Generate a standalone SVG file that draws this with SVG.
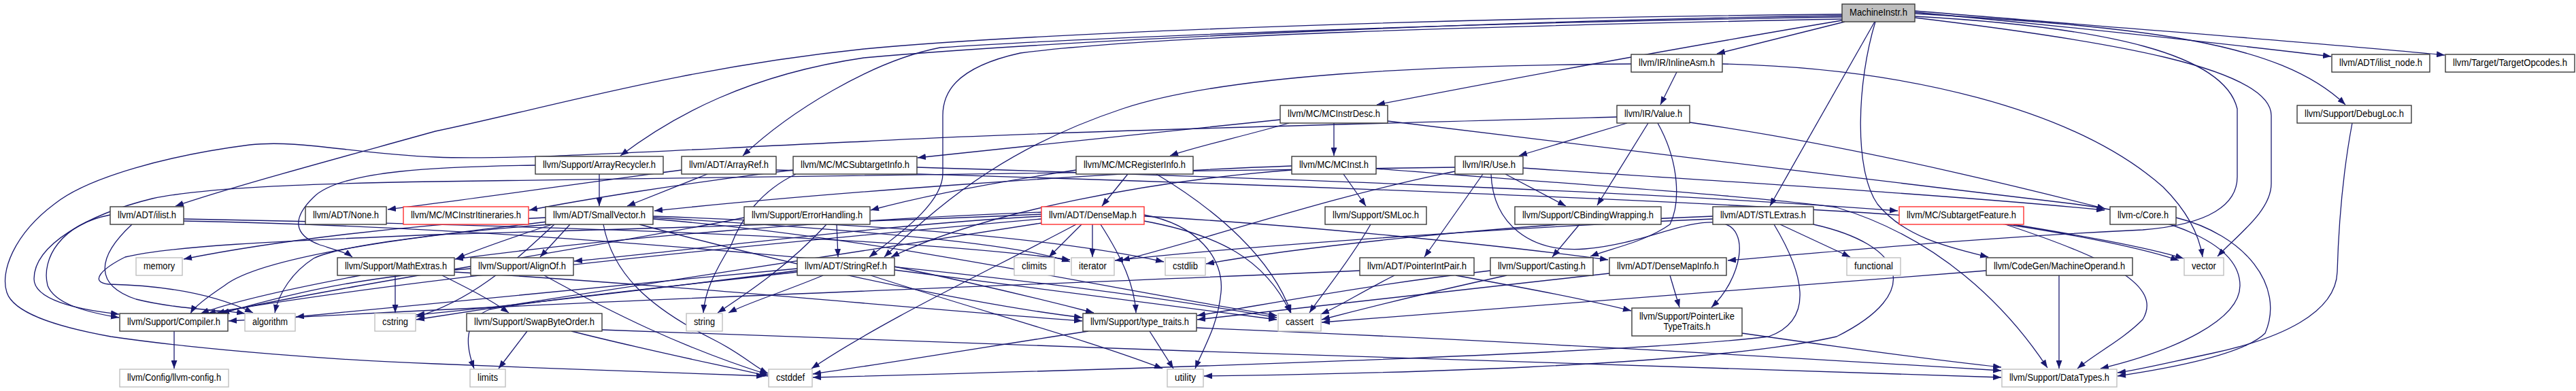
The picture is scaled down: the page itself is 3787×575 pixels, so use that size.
<svg xmlns="http://www.w3.org/2000/svg" width="3787" height="575" viewBox="0 0 3787 575">
<style>
.e path{fill:none;stroke:#191970;stroke-width:1.3;marker-end:url(#ah)}
rect{fill:#fff;stroke-width:1.4}
.b rect{stroke:#3a3a3a}
.g rect{stroke:#bfbfbf}
.r rect{stroke:#ff3030}
.m rect{fill:#bfbfbf;stroke:#3a3a3a}
text{font-family:"Liberation Sans",Arial,sans-serif;font-size:14px;fill:#000;text-anchor:middle}
</style>
<defs>
<marker id="ah" markerWidth="12" markerHeight="9" refX="12" refY="4.5" orient="auto" markerUnits="userSpaceOnUse"><path d="M0,0 L12,4.5 L0,9 z" fill="#191970"/></marker>
</defs>
<rect x="0" y="0" width="3787" height="575" style="fill:#fff;stroke:none"/>
<g id="connectors" class="e">
<path d="M2708,21 C2100,26 1500,50 1270,72 C1000,100 800,160 640,193 C500,232 350,272 258,303"/>
<path d="M2708,23 C2200,30 1550,60 1270,85 C1100,110 990,170 912,229"/>
<path d="M2708,25 C2200,32 1600,55 1382,70 C1280,90 1160,165 1092,229"/>
<path d="M2708,28 C2200,38 1700,52 1500,78 C1400,100 1386,140 1386,170 L1386,255 C1386,300 1320,345 1278,378"/>
<path d="M2708,30 C2600,48 2300,100 2024,154"/>
<path d="M2712,32 L2524,79"/>
<path d="M2756,32 L2602,303"/>
<path d="M2757,32 C2730,120 2725,250 2760,300 C2800,350 2870,365 2923,378"/>
<path d="M2815,24 C3100,40 3270,80 3289,160 L3289,260 C3289,300 3250,330 3150,338 C2900,350 2700,370 2540,383"/>
<path d="M2815,26 C3100,60 3339,100 3339,170 L3339,270 C3339,310 3290,345 3260,377"/>
<path d="M2815,20 C3150,40 3350,60 3448,154"/>
<path d="M2815,18 C3050,40 3250,62 3427,83"/>
<path d="M2815,16 C3100,40 3400,62 3594,81"/>
<path d="M2465,106 L2441,154"/>
<path d="M2398,94 C2100,96 1800,110 1650,160 C1500,210 1400,280 1300,378"/>
<path d="M2532,94 C2800,100 3050,160 3180,275 C3215,310 3233,345 3238,378"/>
<path d="M1961,181 L1961,229"/>
<path d="M1882,176 C1700,195 1450,220 1349,232"/>
<path d="M1895,181 C1830,200 1760,215 1720,229"/>
<path d="M2040,178 C2300,210 2800,270 3050,300 C3200,320 3293,360 3293,420 C3293,470 3200,515 3088,542"/>
<path d="M2023,248 C2300,270 2600,290 2700,305 C2850,350 2950,450 3010,541"/>
<path d="M2392,181 L2233,229"/>
<path d="M2423,181 L2348,302"/>
<path d="M2437,181 C2470,240 2470,300 2455,330 C2420,355 2370,365 2338,377"/>
<path d="M2484,180 C2700,210 2950,270 3095,307"/>
<path d="M2377,172 C2000,182 1500,195 1270,208 C1000,220 760,236 640,231 C520,226 440,205 367,213 C250,228 130,260 80,300 C20,345 0,400 10,430 C20,460 80,480 163,495 C300,515 500,530 640,535 C800,542 1000,548 1124,553"/>
<path d="M2180,256 L2094,378"/>
<path d="M2213,256 L2302,303"/>
<path d="M2239,247 C2500,265 2850,285 3094,309"/>
<path d="M2139,252 C1950,290 1780,350 1649,383"/>
<path d="M2192,256 C2195,330 2250,372 2330,366 C2420,358 2480,320 2530,328 C2575,335 2560,410 2516,452"/>
<path d="M2139,246 C1700,252 1000,262 640,267 C450,270 300,276 224,292 C130,315 50,360 50,410 C50,440 110,455 175,462"/>
<path d="M1975,256 L2008,303"/>
<path d="M1899,244 C1600,255 1200,285 962,310"/>
<path d="M1899,250 C1700,265 1450,310 1310,378"/>
<path d="M1658,256 L1620,303"/>
<path d="M1582,250 C1450,270 1350,290 1280,309"/>
<path d="M1700,256 C1790,310 1870,380 1898,460"/>
<path d="M1166,250 C1000,270 850,295 778,309"/>
<path d="M1348,246 C1800,260 2400,280 2790,310"/>
<path d="M1170,256 C1120,280 1090,320 1075,360 C1050,400 1036,430 1034,460"/>
<path d="M881,256 L881,303"/>
<path d="M787,243 C650,245 500,250 461,290 C430,320 430,345 470,360 C495,368 510,372 518,378"/>
<path d="M1002,250 C850,270 700,292 570,308"/>
<path d="M1040,256 C1000,272 960,288 922,303"/>
<path d="M1141,250 C1700,265 2700,300 2950,330 C3050,345 3150,365 3203,383"/>
<path d="M162,316 C90,330 60,380 70,420 C80,445 120,458 175,467"/>
<path d="M194,330 C140,380 140,420 200,440 C260,455 330,456 360,461"/>
<path d="M270,322 C700,330 1300,345 1573,382"/>
<path d="M270,325 C800,335 1500,400 1877,467"/>
<path d="M838,330 L794,378"/>
<path d="M810,330 C600,345 380,380 330,420 C300,440 285,452 280,461"/>
<path d="M812,330 C750,350 700,368 671,380"/>
<path d="M802,320 C600,330 400,355 270,381"/>
<path d="M940,330 C1200,400 1450,450 1591,467"/>
<path d="M805,326 C650,345 500,360 461,380 C430,400 410,430 404,460"/>
<path d="M960,322 C1300,350 1600,420 1877,464"/>
<path d="M887,330 C900,400 950,450 1050,500 C1090,520 1110,540 1129,549"/>
<path d="M960,318 C1300,330 1550,350 1711,385"/>
<path d="M815,330 C760,380 700,440 612,466"/>
<path d="M960,320 C1300,340 1500,360 1573,385"/>
<path d="M1230,330 L1232,378"/>
<path d="M1215,330 C1160,390 1100,430 1055,460"/>
<path d="M1094,320 C900,360 500,420 318,461"/>
<path d="M1682,318 C1900,330 2200,360 2364,382"/>
<path d="M1531,312 C1200,325 900,350 669,381"/>
<path d="M1531,318 C1300,330 1000,370 844,384"/>
<path d="M1531,322 C1100,360 600,410 305,461"/>
<path d="M1618,330 C1650,380 1668,420 1670,460"/>
<path d="M1531,315 C1200,330 800,340 640,345 C400,355 250,362 184,378 C150,395 130,415 160,418 C250,420 320,435 372,460"/>
<path d="M1682,325 C1790,345 1860,380 1897,460"/>
<path d="M1590,330 L1542,378"/>
<path d="M1582,330 C1450,400 1300,470 1193,542"/>
<path d="M1531,328 C1200,380 800,440 612,470"/>
<path d="M1606,330 L1606,378"/>
<path d="M1682,316 C1760,330 1800,380 1795,430 C1790,480 1770,510 1757,542"/>
<path d="M1315,392 C1450,420 1550,445 1608,460"/>
<path d="M1172,395 C900,420 600,450 435,466"/>
<path d="M1315,397 C1500,420 1750,455 1877,470"/>
<path d="M1172,398 C1000,420 750,450 612,463"/>
<path d="M1172,400 C1000,420 800,440 720,455 C680,470 685,510 697,542"/>
<path d="M1210,405 C1150,430 1100,445 1071,460"/>
<path d="M1280,405 C1450,460 1600,500 1709,542"/>
<path d="M530,405 C450,420 350,440 295,461"/>
<path d="M650,405 C690,425 720,440 748,460"/>
<path d="M668,400 C1000,420 1300,450 1591,472"/>
<path d="M581,405 L581,460"/>
<path d="M692,395 C500,410 400,440 325,461"/>
<path d="M800,405 C900,460 1000,510 1129,551"/>
<path d="M885,485 C1500,510 2500,540 2942,555"/>
<path d="M840,487 C950,515 1050,535 1129,553"/>
<path d="M775,487 L733,542"/>
<path d="M1759,482 C2200,500 2700,530 2942,545"/>
<path d="M1600,487 C1450,510 1300,535 1195,550"/>
<path d="M1690,487 L1725,542"/>
<path d="M256,487 L256,542"/>
<path d="M2140,405 C2250,425 2330,440 2398,457"/>
<path d="M2050,405 C2000,430 1970,450 1942,462"/>
<path d="M1999,398 C1500,420 900,440 336,472"/>
<path d="M2191,398 C2000,420 1850,450 1760,464"/>
<path d="M2215,405 C2100,430 2000,455 1943,470"/>
<path d="M2322,330 L2282,378"/>
<path d="M2455,405 L2469,452"/>
<path d="M2366,402 C2100,430 1900,455 1760,470"/>
<path d="M2015,330 C1980,390 1945,430 1925,460"/>
<path d="M2617,330 L2720,378"/>
<path d="M2608,330 C2650,400 2670,470 2600,495 C2400,520 1600,545 1195,555"/>
<path d="M2518,318 C2200,330 1900,365 1773,388"/>
<path d="M2518,322 C2200,335 1800,365 1639,383"/>
<path d="M2666,330 C2800,360 2830,430 2700,495 C2500,540 2000,550 1770,553"/>
<path d="M2948,330 C3100,380 3180,420 3150,470 C3120,500 3080,520 3054,542"/>
<path d="M2960,330 C3050,345 3150,362 3210,380"/>
<path d="M3027,405 L3027,542"/>
<path d="M2920,398 C2500,430 2200,455 1943,474"/>
<path d="M2561,490 C2700,510 2850,530 2942,540"/>
<path d="M3458,181 C3445,250 3438,330 3436,400 C3434,460 3354,498 3250,520 C3180,535 3140,545 3113,548"/>
<path d="M3199,320 C3300,345 3360,420 3330,490 C3300,520 3200,540 3113,553"/>
</g>
<g id="MachineInstr" class="m"><rect x="2708" y="6" width="107" height="26"/><text x="2761.5" y="23" textLength="85" lengthAdjust="spacingAndGlyphs">MachineInstr.h</text></g>
<g id="InlineAsm" class="b"><rect x="2398" y="80" width="134" height="26"/><text x="2465" y="97" textLength="112" lengthAdjust="spacingAndGlyphs">llvm/IR/InlineAsm.h</text></g>
<g id="ilist_node" class="b"><rect x="3428" y="80" width="144" height="26"/><text x="3500" y="97" textLength="122" lengthAdjust="spacingAndGlyphs">llvm/ADT/ilist_node.h</text></g>
<g id="TargetOpcodes" class="b"><rect x="3595" y="80" width="190" height="26"/><text x="3690" y="97" textLength="168" lengthAdjust="spacingAndGlyphs">llvm/Target/TargetOpcodes.h</text></g>
<g id="MCInstrDesc" class="b"><rect x="1882" y="155" width="158" height="26"/><text x="1961" y="172" textLength="136" lengthAdjust="spacingAndGlyphs">llvm/MC/MCInstrDesc.h</text></g>
<g id="Value" class="b"><rect x="2377" y="155" width="107" height="26"/><text x="2430.5" y="172" textLength="85" lengthAdjust="spacingAndGlyphs">llvm/IR/Value.h</text></g>
<g id="DebugLoc" class="b"><rect x="3377" y="155" width="168" height="26"/><text x="3461" y="172" textLength="146" lengthAdjust="spacingAndGlyphs">llvm/Support/DebugLoc.h</text></g>
<g id="ArrayRecycler" class="b"><rect x="787" y="230" width="188" height="26"/><text x="881" y="247" textLength="166" lengthAdjust="spacingAndGlyphs">llvm/Support/ArrayRecycler.h</text></g>
<g id="ArrayRef" class="b"><rect x="1002" y="230" width="139" height="26"/><text x="1071.5" y="247" textLength="117" lengthAdjust="spacingAndGlyphs">llvm/ADT/ArrayRef.h</text></g>
<g id="MCSubtargetInfo" class="b"><rect x="1166" y="230" width="182" height="26"/><text x="1257" y="247" textLength="160" lengthAdjust="spacingAndGlyphs">llvm/MC/MCSubtargetInfo.h</text></g>
<g id="MCRegisterInfo" class="b"><rect x="1582" y="230" width="172" height="26"/><text x="1668" y="247" textLength="150" lengthAdjust="spacingAndGlyphs">llvm/MC/MCRegisterInfo.h</text></g>
<g id="MCInst" class="b"><rect x="1899" y="230" width="124" height="26"/><text x="1961" y="247" textLength="102" lengthAdjust="spacingAndGlyphs">llvm/MC/MCInst.h</text></g>
<g id="Use" class="b"><rect x="2139" y="230" width="100" height="26"/><text x="2189" y="247" textLength="78" lengthAdjust="spacingAndGlyphs">llvm/IR/Use.h</text></g>
<g id="ilist" class="b"><rect x="162" y="304" width="108" height="26"/><text x="216" y="321" textLength="86" lengthAdjust="spacingAndGlyphs">llvm/ADT/ilist.h</text></g>
<g id="None" class="b"><rect x="449" y="304" width="119" height="26"/><text x="508.5" y="321" textLength="97" lengthAdjust="spacingAndGlyphs">llvm/ADT/None.h</text></g>
<g id="MCInstrItineraries" class="r"><rect x="593" y="304" width="184" height="26"/><text x="685" y="321" textLength="162" lengthAdjust="spacingAndGlyphs">llvm/MC/MCInstrItineraries.h</text></g>
<g id="SmallVector" class="b"><rect x="802" y="304" width="158" height="26"/><text x="881" y="321" textLength="136" lengthAdjust="spacingAndGlyphs">llvm/ADT/SmallVector.h</text></g>
<g id="ErrorHandling" class="b"><rect x="1094" y="304" width="185" height="26"/><text x="1186.5" y="321" textLength="163" lengthAdjust="spacingAndGlyphs">llvm/Support/ErrorHandling.h</text></g>
<g id="DenseMap" class="r"><rect x="1531" y="304" width="151" height="26"/><text x="1606.5" y="321" textLength="129" lengthAdjust="spacingAndGlyphs">llvm/ADT/DenseMap.h</text></g>
<g id="SMLoc" class="b"><rect x="1948" y="304" width="149" height="26"/><text x="2022.5" y="321" textLength="127" lengthAdjust="spacingAndGlyphs">llvm/Support/SMLoc.h</text></g>
<g id="CBindingWrapping" class="b"><rect x="2227" y="304" width="215" height="26"/><text x="2334.5" y="321" textLength="193" lengthAdjust="spacingAndGlyphs">llvm/Support/CBindingWrapping.h</text></g>
<g id="STLExtras" class="b"><rect x="2518" y="304" width="148" height="26"/><text x="2592" y="321" textLength="126" lengthAdjust="spacingAndGlyphs">llvm/ADT/STLExtras.h</text></g>
<g id="SubtargetFeature" class="r"><rect x="2792" y="304" width="183" height="26"/><text x="2883.5" y="321" textLength="161" lengthAdjust="spacingAndGlyphs">llvm/MC/SubtargetFeature.h</text></g>
<g id="Core" class="b"><rect x="3102" y="304" width="97" height="26"/><text x="3150.5" y="321" textLength="75" lengthAdjust="spacingAndGlyphs">llvm-c/Core.h</text></g>
<g id="memory" class="g"><rect x="200" y="379" width="68" height="26"/><text x="234" y="396" textLength="46" lengthAdjust="spacingAndGlyphs">memory</text></g>
<g id="MathExtras" class="b"><rect x="496" y="379" width="172" height="26"/><text x="582" y="396" textLength="150" lengthAdjust="spacingAndGlyphs">llvm/Support/MathExtras.h</text></g>
<g id="AlignOf" class="b"><rect x="692" y="379" width="151" height="26"/><text x="767.5" y="396" textLength="129" lengthAdjust="spacingAndGlyphs">llvm/Support/AlignOf.h</text></g>
<g id="StringRef" class="b"><rect x="1172" y="379" width="143" height="26"/><text x="1243.5" y="396" textLength="121" lengthAdjust="spacingAndGlyphs">llvm/ADT/StringRef.h</text></g>
<g id="climits" class="g"><rect x="1491" y="379" width="59" height="26"/><text x="1520.5" y="396" textLength="37" lengthAdjust="spacingAndGlyphs">climits</text></g>
<g id="iterator" class="g"><rect x="1575" y="379" width="63" height="26"/><text x="1606.5" y="396" textLength="41" lengthAdjust="spacingAndGlyphs">iterator</text></g>
<g id="cstdlib" class="g"><rect x="1713" y="379" width="59" height="26"/><text x="1742.5" y="396" textLength="37" lengthAdjust="spacingAndGlyphs">cstdlib</text></g>
<g id="PointerIntPair" class="b"><rect x="1999" y="379" width="168" height="26"/><text x="2083" y="396" textLength="146" lengthAdjust="spacingAndGlyphs">llvm/ADT/PointerIntPair.h</text></g>
<g id="Casting" class="b"><rect x="2191" y="379" width="151" height="26"/><text x="2266.5" y="396" textLength="129" lengthAdjust="spacingAndGlyphs">llvm/Support/Casting.h</text></g>
<g id="DenseMapInfo" class="b"><rect x="2366" y="379" width="172" height="26"/><text x="2452" y="396" textLength="150" lengthAdjust="spacingAndGlyphs">llvm/ADT/DenseMapInfo.h</text></g>
<g id="functional" class="g"><rect x="2715" y="379" width="79" height="26"/><text x="2754.5" y="396" textLength="57" lengthAdjust="spacingAndGlyphs">functional</text></g>
<g id="MachineOperand" class="b"><rect x="2920" y="379" width="215" height="26"/><text x="3027.5" y="396" textLength="193" lengthAdjust="spacingAndGlyphs">llvm/CodeGen/MachineOperand.h</text></g>
<g id="vector" class="g"><rect x="3211" y="379" width="58" height="26"/><text x="3240" y="396" textLength="36" lengthAdjust="spacingAndGlyphs">vector</text></g>
<g id="Compiler" class="b"><rect x="176" y="461" width="159" height="26"/><text x="255.5" y="478" textLength="137" lengthAdjust="spacingAndGlyphs">llvm/Support/Compiler.h</text></g>
<g id="algorithm" class="g"><rect x="360" y="461" width="74" height="26"/><text x="397" y="478" textLength="52" lengthAdjust="spacingAndGlyphs">algorithm</text></g>
<g id="cstring" class="g"><rect x="551" y="461" width="60" height="26"/><text x="581" y="478" textLength="38" lengthAdjust="spacingAndGlyphs">cstring</text></g>
<g id="SwapByteOrder" class="b"><rect x="686" y="461" width="199" height="26"/><text x="785.5" y="478" textLength="177" lengthAdjust="spacingAndGlyphs">llvm/Support/SwapByteOrder.h</text></g>
<g id="string" class="g"><rect x="1009" y="461" width="53" height="26"/><text x="1035.5" y="478" textLength="31" lengthAdjust="spacingAndGlyphs">string</text></g>
<g id="type_traits" class="b"><rect x="1592" y="461" width="167" height="26"/><text x="1675.5" y="478" textLength="145" lengthAdjust="spacingAndGlyphs">llvm/Support/type_traits.h</text></g>
<g id="cassert" class="g"><rect x="1879" y="461" width="63" height="26"/><text x="1910.5" y="478" textLength="41" lengthAdjust="spacingAndGlyphs">cassert</text></g>
<g id="PointerLikeTypeTraits" class="b"><rect x="2399" y="453" width="162" height="41"/><text x="2480" y="470" textLength="140" lengthAdjust="spacingAndGlyphs">llvm/Support/PointerLike</text><text x="2480" y="485" textLength="69" lengthAdjust="spacingAndGlyphs">TypeTraits.h</text></g>
<g id="llvm-config" class="g"><rect x="176" y="543" width="160" height="26"/><text x="256" y="560" textLength="138" lengthAdjust="spacingAndGlyphs">llvm/Config/llvm-config.h</text></g>
<g id="limits" class="g"><rect x="691" y="543" width="52" height="26"/><text x="717" y="560" textLength="30" lengthAdjust="spacingAndGlyphs">limits</text></g>
<g id="cstddef" class="g"><rect x="1130" y="543" width="64" height="26"/><text x="1162" y="560" textLength="42" lengthAdjust="spacingAndGlyphs">cstddef</text></g>
<g id="utility" class="g"><rect x="1716" y="543" width="53" height="26"/><text x="1742.5" y="560" textLength="31" lengthAdjust="spacingAndGlyphs">utility</text></g>
<g id="DataTypes" class="g"><rect x="2943" y="543" width="169" height="26"/><text x="3027.5" y="560" textLength="147" lengthAdjust="spacingAndGlyphs">llvm/Support/DataTypes.h</text></g>
</svg>
